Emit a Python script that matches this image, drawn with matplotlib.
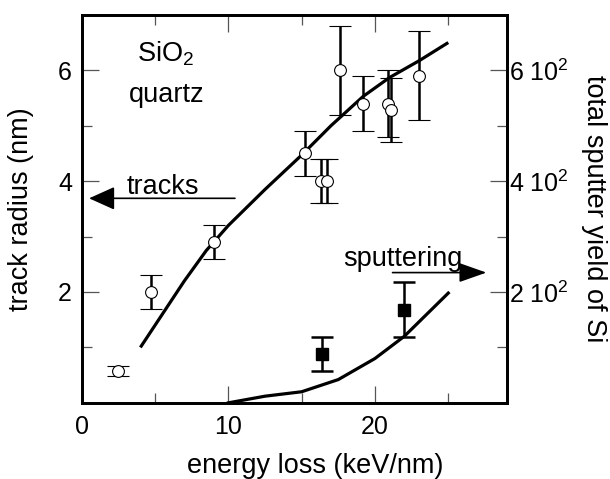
import matplotlib
matplotlib.use("Agg")
import matplotlib.pyplot as plt
from matplotlib.ticker import FixedLocator, FixedFormatter

plt.rcParams['font.family'] = ['Liberation Sans', 'DejaVu Sans']
plt.rcParams['mathtext.fontset'] = 'custom'
plt.rcParams['mathtext.rm'] = 'Liberation Sans'
plt.rcParams['mathtext.it'] = 'Liberation Sans:italic'
plt.rcParams['mathtext.bf'] = 'Liberation Sans:bold'

# ---- data ----
track_x = [2.5, 4.7, 9.0, 15.2, 16.3, 16.7, 17.6, 19.2, 20.9, 21.1, 23.0]
track_r = [0.58, 2.0, 2.9, 4.5, 4.0, 4.0, 6.0, 5.4, 5.4, 5.28, 5.9]
track_err = [0.09, 0.3, 0.3, 0.4, 0.4, 0.4, 0.8, 0.5, 0.6, 0.58, 0.8]

track_fit_x = [4.0, 5.5, 7.0, 8.5, 10.0, 12.5, 15.0, 17.0, 19.2, 21.0, 23.0, 25.0]
track_fit_r = [1.0, 1.6, 2.2, 2.75, 3.2, 3.85, 4.47, 5.0, 5.53, 5.87, 6.17, 6.5]

sput_x = [16.4, 22.0]
sput_y = [88, 168]
sput_err = [30, 50]

sput_fit_x = [10.0, 12.5, 15.0, 17.5, 20.0, 22.0, 25.0]
sput_fit_y = [0, 12, 20, 42, 80, 120, 198]

x_major = [0, 10, 20]
x_minor = [5, 15, 25]
y_major = [2, 4, 6]
y_minor = [1, 3, 5]
y2_major = [200, 400, 600]
y2_minor = [100, 300, 500]
y2_labels = ['2 10$^{\\mathrm{2}}$', '4 10$^{\\mathrm{2}}$', '6 10$^{\\mathrm{2}}$']

# ---- figure ----
fig = plt.figure(figsize=(6.1, 4.79), dpi=100)
ax = fig.add_axes([0.134, 0.159, 0.697, 0.810])
ax2 = ax.twinx()

ax.set_xlim(0, 29)
ax.set_ylim(0, 7)
ax2.set_ylim(0, 700)

lw_curve = 2.3
ax.plot(track_fit_x, track_fit_r, color='black', lw=lw_curve, zorder=2,
        solid_capstyle='butt')
ax.errorbar(track_x, track_r, yerr=track_err, fmt='o', ms=8.5,
            mfc='white', mec='black', mew=0.8, ecolor='black',
            elinewidth=1.8, capsize=8, capthick=1.8, zorder=3)

ax2.plot(sput_fit_x, sput_fit_y, color='black', lw=lw_curve, zorder=2)
ax2.errorbar(sput_x, sput_y, yerr=sput_err, fmt='s', ms=8.5,
             mfc='black', mec='black', ecolor='black',
             elinewidth=1.8, capsize=8, capthick=1.8, zorder=3)

# ticks
for a in (ax, ax2):
    for s in a.spines.values():
        s.set_linewidth(2.0)

ax.xaxis.set_major_locator(FixedLocator(x_major))
ax.xaxis.set_minor_locator(FixedLocator(x_minor))
ax.yaxis.set_major_locator(FixedLocator(y_major))
ax.yaxis.set_minor_locator(FixedLocator(y_minor))
ax.tick_params(axis='both', which='major', direction='in', length=12.5,
               width=0.9, labelsize=18, top=True, right=False, color='#555555')
ax.tick_params(axis='both', which='minor', direction='in', length=7,
               width=0.9, top=True, right=False, color='#555555')
ax.tick_params(axis='x', which='major', pad=9)
ax.tick_params(axis='y', which='major', pad=7)

ax2.yaxis.set_major_locator(FixedLocator(y2_major))
ax2.yaxis.set_major_formatter(FixedFormatter(y2_labels))
ax2.yaxis.set_minor_locator(FixedLocator(y2_minor))
ax2.tick_params(axis='y', which='major', direction='in', length=12.5,
                width=0.9, labelsize=18, pad=1.5, color='#555555')
ax2.tick_params(axis='y', which='minor', direction='in', length=7,
                width=0.9, color='#555555')

ax.set_xlabel('energy loss (keV/nm)', fontsize=19.5)
ax.xaxis.set_label_coords(0.549, -0.13)
ax.set_ylabel('track radius (nm)', fontsize=19.5, va='center')
ax.yaxis.set_label_coords(-0.143, 0.5)
ax2.set_ylabel('total sputter yield of Si', fontsize=19.5, rotation=270,
               va='center')
ax2.yaxis.set_label_coords(1.205, 0.5)

# annotations
ax.text(3.75, 6.29, 'SiO$_{\\mathrm{2}}$', fontsize=19.5, ha='left', va='center')
ax.text(3.2, 5.56, 'quartz', fontsize=19.5, ha='left', va='center')
ax.text(3.05, 3.89, 'tracks', fontsize=19.5, ha='left', va='center')
ax.text(17.8, 2.59, 'sputtering', fontsize=19.5, ha='left', va='center')

ax.annotate('', xy=(0.5, 3.69), xytext=(10.45, 3.69),
            arrowprops=dict(arrowstyle='-|>,head_length=0.8,head_width=0.36',
                            mutation_scale=20, lw=1.2, color='black',
                            shrinkA=0, shrinkB=0), zorder=4)
ax.annotate('', xy=(27.6, 2.35), xytext=(21.2, 2.35),
            arrowprops=dict(arrowstyle='-|>,head_length=0.85,head_width=0.3',
                            mutation_scale=20, lw=1.2, color='black',
                            shrinkA=0, shrinkB=0), zorder=4)

fig.savefig('out.png', dpi=100, facecolor='white')
